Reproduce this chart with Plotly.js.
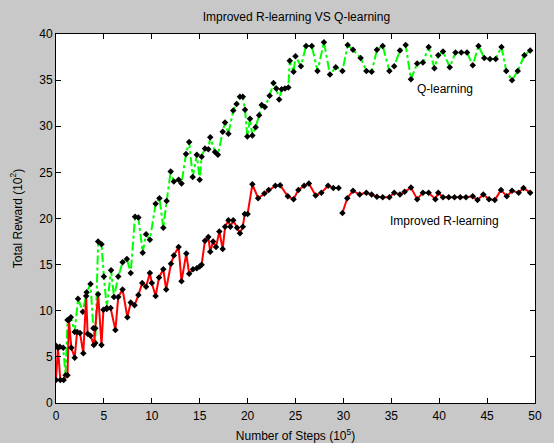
<!DOCTYPE html>
<html>
<head>
<meta charset="utf-8">
<script src="https://cdn.plot.ly/plotly-3.0.1.min.js"></script>
<style>html,body{margin:0;padding:0;background:#c8c8c8;}#chart{width:554px;height:443px;}</style>
</head>
<body>
<div id="chart"></div>
<script>
const qX = [0,0.4,0.75,1.0,1.2,1.55,1.95,2.3,2.8,3.2,3.6,3.9,4.1,4.4,4.75,5.0,5.3,5.75,6.05,6.5,6.95,7.4,7.8,8.25,8.6,9.05,9.4,9.8,10.4,10.8,11.2,11.55,11.97,12.3,12.8,13.1,13.57,13.9,14.27,14.7,15.0,15.2,15.55,15.9,16.1,16.6,16.9,17.4,17.64,18.0,18.5,18.85,19.2,19.5,19.73,19.97,20.25,20.5,20.84,21.2,21.47,21.8,22.3,22.7,23.0,23.3,23.55,23.9,24.25,24.4,24.8,25.0,25.57,26.1,26.7,27.3,27.97,28.6,29.2,29.9,30.45,31.0,31.8,32.4,32.95,33.5,34.1,34.8,35.3,35.9,36.5,37.05,37.7,38.3,38.9,39.5,39.9,40.4,41.1,41.7,42.3,42.9,43.5,44.1,44.7,45.3,45.9,46.5,47.0,47.6,48.2,48.9,49.5];
const qY = [6.2,6.1,6.0,3.0,9.0,9.3,7.7,11.3,9.9,12.0,12.9,8.1,6.5,17.5,17.2,13.7,10.3,14.4,11.5,13.7,15.25,15.6,14.1,20.2,20.1,16.3,18.3,17.7,21.6,22.2,19.0,21.9,25.1,24.0,24.2,23.8,27.0,28.3,24.5,26.9,24.2,26.7,27.6,27.5,28.8,27.2,26.9,29.4,30.4,29.2,31.7,32.4,33.2,33.2,31.8,28.9,30.8,29.0,29.9,31.2,32.3,32.1,33.3,34.7,34.1,32.9,34.0,34.1,34.2,37.1,35.9,37.6,36.5,38.7,38.7,36.0,39.1,35.6,36.4,36.0,38.8,38.3,37.4,36.0,35.9,38.3,38.7,36.0,36.5,38.2,38.8,35.1,36.8,36.9,38.6,36.3,37.7,38.1,36.4,38.0,38.0,38.0,36.6,38.7,37.4,37.3,37.3,38.6,36.0,35.0,36.0,37.7,38.2];
const rX = [0,0.2,0.45,0.8,1.2,1.35,1.6,1.95,2.2,2.5,2.85,3.15,3.3,3.6,3.95,4.1,4.4,4.75,4.95,5.3,5.7,6.2,6.5,6.95,7.45,7.8,8.2,8.6,9.0,9.4,9.8,10.0,10.4,10.75,11.2,11.5,12.0,12.3,12.8,13.1,13.6,13.9,14.3,14.7,15.0,15.2,15.55,15.9,16.1,16.4,16.7,17.05,17.4,17.65,18.0,18.2,18.5,18.9,19.2,19.5,19.7,20.0,20.5,21.1,21.75,22.2,22.9,23.4,24.2,24.8,25.3,25.9,26.4,27.1,27.7,28.4,28.95,29.5,29.7,29.9,30.4,31.0,31.7,32.4,32.95,33.5,34.1,34.8,35.3,35.9,36.4,37.05,37.7,38.3,38.9,39.6,39.9,40.4,41.0,41.6,42.2,42.8,43.5,44.0,44.6,45.2,45.8,46.45,47.05,47.6,48.3,48.8,49.5];
const rY = [2.5,6.0,2.5,2.5,3.0,9.0,6.0,4.9,7.7,7.6,5.4,11.6,7.5,7.3,6.3,8.1,11.8,6.3,10.1,10.2,10.3,7.9,11.5,12.3,9.3,10.9,10.6,11.7,13.0,12.6,14.1,13.0,11.6,13.6,14.5,12.3,15.1,16.0,16.9,13.2,16.2,14.0,14.5,14.6,14.8,15.0,17.6,18.0,16.4,17.5,16.9,18.6,16.7,19.1,19.8,19.1,19.8,19.0,18.4,19.1,20.5,20.5,23.7,22.2,22.7,23.1,23.55,23.6,22.4,22.1,23.1,23.55,23.8,22.5,22.8,23.55,23.3,23.3,null,20.6,22.2,23.0,22.6,22.8,22.6,22.35,22.3,22.3,22.8,22.6,22.9,23.35,22.1,22.8,22.8,22.1,22.8,22.3,22.3,22.3,22.3,22.3,22.4,22.0,22.6,22.1,22.0,23.1,22.4,23.0,22.8,23.3,22.8];
const xTicks = [0,5,10,15,20,25,30,35,40,45,50];
const yTicks = [0,5,10,15,20,25,30,35,40];
const titleText = "Improved R-learning VS Q-learning";
const xTitle = "Number of Steps (10<sup>5</sup>)";
const yTitle = "Total Reward (10<sup>2</sup>)";
const labelQ = "Q-learning";
const labelR = "Improved R-learning";

const font = "Liberation Sans, Arial, sans-serif";
const mk = {symbol: "diamond", size: 5, color: "#000000"};
const traces = [
  {x: qX, y: qY, type: "scatter", mode: "lines+markers", name: labelQ,
   line: {color: "#00ff00", width: 2, dash: "dashdot"}, marker: mk},
  {x: rX, y: rY, type: "scatter", mode: "lines+markers", name: labelR, connectgaps: false,
   line: {color: "#ff0000", width: 2}, marker: mk}
];
const axisCommon = {showline: true, linecolor: "#000", linewidth: 1, mirror: "ticks",
  ticks: "inside", ticklen: 5, tickcolor: "#000", showgrid: false, zeroline: false,
  tickfont: {family: font, size: 12, color: "#000"}};
const layout = {
  width: 554, height: 443,
  paper_bgcolor: "#c8c8c8", plot_bgcolor: "#ffffff",
  margin: {l: 56, r: 19, t: 34, b: 40},
  showlegend: false,
  title: {text: titleText, font: {family: font, size: 12, color: "#000"},
          x: 0.535, xanchor: "center", y: 1 - 17/443, yanchor: "middle", yref: "container"},
  xaxis: Object.assign({}, axisCommon, {range: [0, 50], tickvals: xTicks, ticklabelstandoff: 2,
          title: {text: xTitle, font: {family: font, size: 12, color: "#000"}, standoff: 13}}),
  yaxis: Object.assign({}, axisCommon, {range: [0, 40], tickvals: yTicks,
          title: {text: yTitle, font: {family: font, size: 12, color: "#000"}, standoff: 14}}),
  annotations: [
    {x: 37.5, y: 34.0, xref: "x", yref: "y", text: labelQ, showarrow: false, xanchor: "left",
     font: {family: font, size: 12, color: "#000"}},
    {x: 34.7, y: 19.7, xref: "x", yref: "y", text: labelR, showarrow: false, xanchor: "left",
     font: {family: font, size: 12, color: "#000"}}
  ]
};
Plotly.newPlot("chart", traces, layout, {displayModeBar: false, staticPlot: true});
</script>
</body>
</html>
